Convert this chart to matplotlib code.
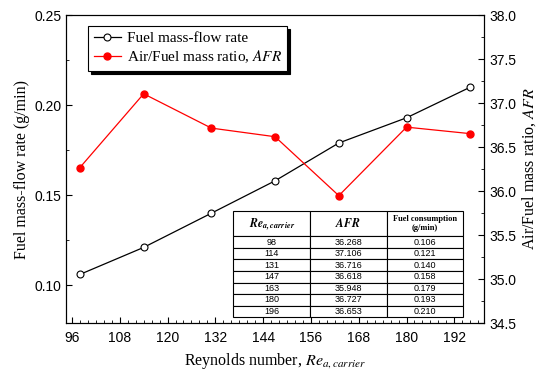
import matplotlib
matplotlib.use("Agg")
import matplotlib.pyplot as plt
from matplotlib.ticker import MultipleLocator

plt.rcParams['mathtext.fontset'] = 'stix'
plt.rcParams['font.family'] = ['Liberation Sans', 'DejaVu Sans']

re_num = [98, 114, 131, 147, 163, 180, 196]
fuel = [0.106, 0.121, 0.140, 0.158, 0.179, 0.193, 0.210]
afr = [36.268, 37.106, 36.716, 36.618, 35.948, 36.727, 36.653]
xticks = [96, 108, 120, 132, 144, 156, 168, 180, 192]

serif = 'Liberation Serif'

fig = plt.figure(figsize=(5.41, 3.70), dpi=100)
ax = fig.add_axes([0.122, 0.127, 0.773, 0.832])
ax2 = ax.twinx()

l1, = ax.plot(re_num, fuel, '-o', color='black', lw=0.9, ms=5,
              mfc='white', mec='black', mew=0.8, label='Fuel mass-flow rate')
l2, = ax2.plot(re_num, afr, '-o', color='red', lw=0.9, ms=5,
               mfc='red', mec='red', label=r'Air/Fuel mass ratio, $AFR$')

ax.set_xlim(94.5, 199.5)
ax.set_ylim(0.079, 0.25)
ax2.set_ylim(34.5, 38.0)
ax.set_xticks(xticks)
ax.xaxis.set_minor_locator(MultipleLocator(2))
ax.yaxis.set_major_locator(MultipleLocator(0.05))
ax.yaxis.set_minor_locator(MultipleLocator(0.025))
ax2.yaxis.set_major_locator(MultipleLocator(0.5))
ax2.yaxis.set_minor_locator(MultipleLocator(0.25))
ax.yaxis.set_major_formatter('{x:.2f}')
ax2.yaxis.set_major_formatter('{x:.1f}')

for a in (ax, ax2):
    a.tick_params(which='both', direction='in', labelsize=10)
    a.tick_params(which='major', length=4)
    a.tick_params(which='minor', length=2)
ax.tick_params(axis='x', pad=6)

ax.set_xlabel(r'Reynolds number, $Re_{a,carrier}$', fontfamily=serif, fontsize=11.5, labelpad=4)
ax.set_ylabel('Fuel mass-flow rate (g/min)', fontfamily=serif, fontsize=11.5, labelpad=3)
ax2.set_ylabel(r'Air/Fuel mass ratio, $AFR$', fontfamily=serif, fontsize=11.5, labelpad=3)

leg = ax.legend(handles=[l1, l2], loc='upper left', bbox_to_anchor=(0.053, 0.965),
                borderaxespad=0,
                prop={'family': serif, 'size': 11}, fancybox=False,
                shadow={'color': 'black', 'alpha': 1}, framealpha=1,
                edgecolor='black', handlelength=1.8, borderpad=0.35,
                labelspacing=0.25, handletextpad=0.4)
leg.get_frame().set_linewidth(0.8)

# table
header = [r'$\mathbfit{Re}_{\mathbfit{a,carrier}}$', r'$\mathbfit{AFR}$',
          'Fuel consumption\n(g/min)']
rows = [[str(r), '%.3f' % a_, '%.3f' % f] for r, a_, f in zip(re_num, afr, fuel)]
tab = ax.table(cellText=rows, colLabels=header, cellLoc='center',
               bbox=[0.40, 0.019, 0.55, 0.345], zorder=5)
tab.auto_set_font_size(False)
for (r, c), cell in tab.get_celld().items():
    cell.set_linewidth(0.8)
    cell.set_facecolor('white')
    if r == 0:
        cell.set_height(0.075)
        cell.get_text().set_fontfamily(serif)
        cell.get_text().set_fontweight('bold')
        cell.get_text().set_fontsize(6 if c == 2 else 8.5)
    else:
        cell.set_height(0.034)
        cell.get_text().set_fontsize(6.5)

fig.savefig('out.png', dpi=100)
